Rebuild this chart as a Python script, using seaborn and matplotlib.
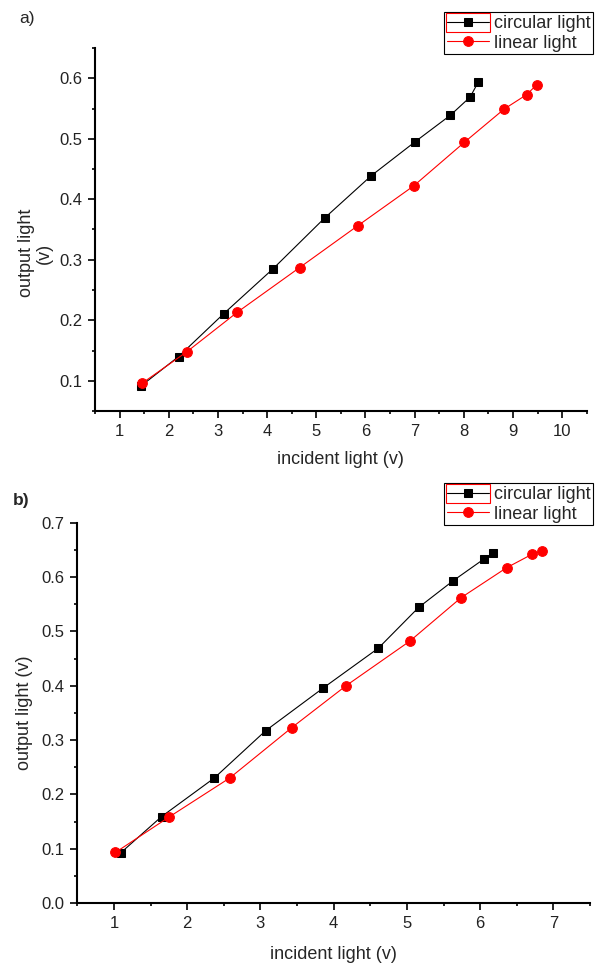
import numpy as np
import pandas as pd
import matplotlib
matplotlib.use("Agg")
import matplotlib.pyplot as plt
from matplotlib.patches import Rectangle
from matplotlib.ticker import MultipleLocator
import seaborn as sns

# panel a)
a_circ_x = [1.43, 2.20, 3.12, 4.12, 5.17, 6.12, 7.01, 7.73, 8.13, 8.29]
a_circ_y = [0.091, 0.140, 0.211, 0.285, 0.369, 0.439, 0.495, 0.539, 0.569, 0.593]
a_lin_x = [1.46, 2.37, 3.39, 4.66, 5.84, 6.98, 8.01, 8.82, 9.28, 9.48]
a_lin_y = [0.096, 0.148, 0.213, 0.287, 0.356, 0.422, 0.494, 0.549, 0.573, 0.589]

# panel b)
b_circ_x = [1.09, 1.65, 2.37, 3.07, 3.86, 4.61, 5.16, 5.63, 6.05, 6.18]
b_circ_y = [0.092, 0.159, 0.230, 0.317, 0.396, 0.469, 0.544, 0.593, 0.633, 0.645]
b_lin_x = [1.02, 1.75, 2.58, 3.43, 4.17, 5.04, 5.74, 6.36, 6.71, 6.85]
b_lin_y = [0.093, 0.158, 0.230, 0.323, 0.400, 0.482, 0.562, 0.617, 0.642, 0.648]

labels = ["circular light", "linear light"]

sns.set_style("ticks")
plt.rcParams["font.family"] = ["Liberation Sans", "DejaVu Sans"]

fig = plt.figure(figsize=(5.97, 9.65), dpi=100)
W, H = 597, 965


def px_axes(left, top, right, bottom):
    return fig.add_axes([left / W, 1 - bottom / H, (right - left) / W, (bottom - top) / H])


def draw_panel(ax, cx, cy, lx, ly):
    sns.lineplot(x=cx, y=cy, ax=ax, color="black", lw=0.8, marker="s", markersize=6,
                 markeredgecolor="black", sort=False, estimator=None, label=labels[0])
    sns.lineplot(x=lx, y=ly, ax=ax, color="red", lw=0.8, marker="o", markersize=7,
                 markeredgecolor="red", sort=False, estimator=None, label=labels[1])
    sns.despine(ax=ax)
    for s in ["left", "bottom"]:
        ax.spines[s].set_linewidth(1.5)
        ax.spines[s].set_color("black")
    ax.tick_params(which="major", length=5, width=1.2, labelsize=12, pad=4,
                   colors="black", labelcolor="#222222")
    ax.tick_params(which="minor", length=2.5, width=1.2, colors="black")
    ax.xaxis.set_minor_locator(MultipleLocator(0.5))
    ax.xaxis.set_major_locator(MultipleLocator(1))


def style_legend(ax, right, top):
    leg = ax.legend(loc="upper right", bbox_to_anchor=(right / W, 1 - top / H),
                    bbox_transform=fig.transFigure, fontsize=13, frameon=True,
                    fancybox=False, edgecolor="black", framealpha=1, borderpad=0.15,
                    handlelength=2.3, handletextpad=0.3, labelspacing=0.15,
                    borderaxespad=0)
    leg.get_frame().set_linewidth(0.8)
    return leg


# panel a
ax1 = px_axes(95, 48, 586.7, 411)
draw_panel(ax1, a_circ_x, a_circ_y, a_lin_x, a_lin_y)
ax1.set_xlim(0.5, 10.5)
ax1.set_ylim(0.05, 0.65)
ax1.yaxis.set_minor_locator(MultipleLocator(0.05))
ax1.set_yticks([0.1, 0.2, 0.3, 0.4, 0.5, 0.6])
ax1.set_yticklabels(["0.1", "0.2", "0.3", "0.4", "0.5", "0.6"])
ax1.set_xlabel("incident light (v)", fontsize=13)
ax1.set_ylabel("output light\n(v)", fontsize=13, linespacing=1.1)
ax1.xaxis.set_label_coords(0.5, -0.11)
ax1.yaxis.set_label_coords(-0.085, 0.435)
leg1 = style_legend(ax1, 593.3, 12.3)

# panel b
ax2 = px_axes(77.3, 522.7, 590, 903)
draw_panel(ax2, b_circ_x, b_circ_y, b_lin_x, b_lin_y)
ax2.set_xlim(0.5, 7.5)
ax2.set_ylim(0.0, 0.7)
ax2.yaxis.set_major_locator(MultipleLocator(0.1))
ax2.yaxis.set_minor_locator(MultipleLocator(0.05))
ax2.yaxis.set_major_formatter(plt.FuncFormatter(lambda v, p: f"{v:.1f}"))
ax2.set_xlabel("incident light (v)", fontsize=13)
ax2.set_ylabel("output light (v)", fontsize=13)
ax2.xaxis.set_label_coords(0.5, -0.113)
ax2.yaxis.set_label_coords(-0.086, 0.5)
leg2 = style_legend(ax2, 593.3, 483.3)

fig.text(19 / W, 1 - 19 / H, "a)", fontsize=12.5, ha="left", va="center")
fig.text(13 / W, 1 - 501 / H, "b)", fontsize=12.5, ha="left", va="center", fontweight="bold")

# red selection box around first legend entry
fig.canvas.draw()
inv = fig.transFigure.inverted()
for leg in [leg1, leg2]:
    lb = leg.get_window_extent()
    tb = leg.get_texts()[0].get_window_extent()
    x0, x1 = lb.x0 + 2, tb.x0 - 4
    y1 = lb.y1 - 1
    y0 = lb.y1 - lb.height / 2 + 1
    (fx0, fy0) = inv.transform((x0, y0))
    (fx1, fy1) = inv.transform((x1, y1))
    fig.patches.append(Rectangle((fx0, fy0), fx1 - fx0, fy1 - fy0, transform=fig.transFigure,
                                 fill=False, edgecolor="red", lw=0.8, figure=fig))

fig.savefig("out.png", dpi=100)
